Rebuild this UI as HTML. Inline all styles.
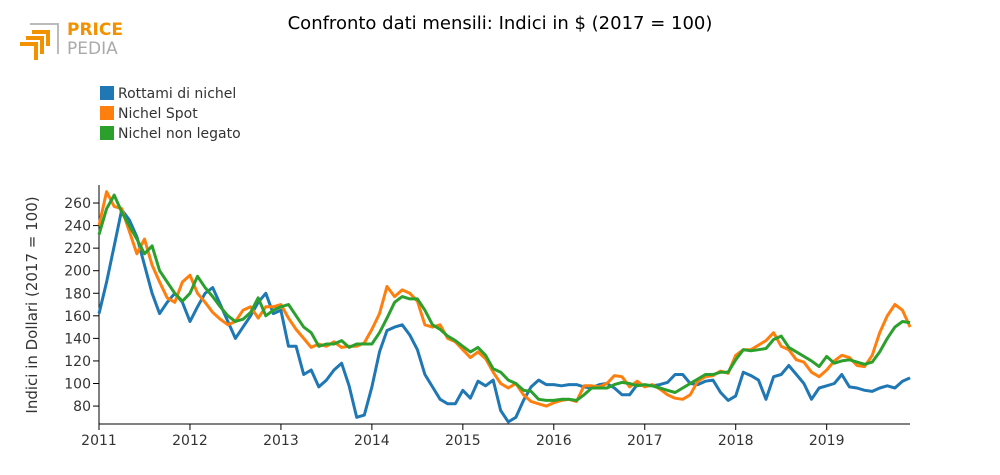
<!DOCTYPE html>
<html><head><meta charset="utf-8"><style>
body{margin:0;background:#fff;font-family:"DejaVu Sans","Liberation Sans",sans-serif}
svg{display:block}
</style></head><body>
<svg id="c" width="1000" height="475">
<g>
<path d="M20 44 h16 v16 M26 38 h16 v16 M32 32 h16 v14" fill="none" stroke="#f39200" stroke-width="4"/>
<path d="M30 24 h28 v30" fill="none" stroke="#bbb" stroke-width="2"/>
<text x="67" y="35" font-size="17" font-weight="bold" fill="#f39200">PRICE</text>
<text x="67" y="54" font-size="17" fill="#aaa">PEDIA</text>
</g>
<text x="500" y="29" text-anchor="middle" font-size="18">Confronto dati mensili: Indici in $ (2017 = 100)</text>
<g id="legend"></g>
<g id="axes"></g>
<g id="lines"></g>
</svg>
<script>
const seriesNames=["Rottami di nichel","Nichel Spot","Nichel non legato"];
const colors=["#1f77b4","#ff7f0e","#2ca02c"];
const startYear=2011;
const rottami=[162,190,222,254,245,230,205,180,162,172,180,172,
155,168,180,185,170,155,140,150,160,172,180,162,
165,133,133,108,112,97,103,112,118,98,70,72,
97,128,147,150,152,143,130,108,97,86,82,82,
94,87,102,98,103,76,66,70,85,97,103,99,
99,98,99,99,97,96,99,100,96,90,90,99,
98,98,99,101,108,108,100,99,102,103,92,85,
89,110,107,103,86,106,108,116,108,100,86,96,
98,100,108,97,96,94,93,96,98,96,102,105];
const spot=[240,270,257,255,235,215,228,205,190,176,172,190,
196,180,172,163,157,152,155,165,168,158,168,168,
170,158,148,140,132,135,133,137,132,133,133,136,
148,162,186,177,183,180,173,152,150,152,140,137,
130,123,128,122,110,100,96,100,90,84,82,80,
83,85,86,84,98,98,97,100,107,106,97,102,
97,99,95,90,87,86,90,102,106,107,111,109,
125,130,130,134,138,145,133,130,121,119,110,106,
112,120,125,123,116,115,125,145,160,170,165,150];
const nonLegato=[232,255,267,252,240,228,215,222,200,190,180,173,
180,195,185,177,168,160,155,157,163,176,160,165,
168,170,160,150,145,133,135,135,138,132,135,135,
135,145,158,172,177,175,175,165,152,148,142,138,
133,128,132,125,113,110,103,100,94,93,86,85,
85,86,86,85,90,96,96,96,99,101,100,98,
99,98,96,94,92,96,100,104,108,108,110,110,
121,130,129,130,131,139,142,132,128,124,120,115,
124,118,120,121,119,117,119,128,140,150,155,154];
const yTicks=[80,100,120,140,160,180,200,220,240,260];
const xTicks=[2011,2012,2013,2014,2015,2016,2017,2018,2019];
const NS="http://www.w3.org/2000/svg";
const X0=99,PXM=7.58,Y100=383.5,PXU=1.128,YB=424,YT=185;
const x=i=>X0+i*PXM;
const y=v=>Y100-(v-100)*PXU;
function mk(t,a,p){const e=document.createElementNS(NS,t);for(const k in a)e.setAttribute(k,a[k]);p.appendChild(e);return e;}
const ax=document.getElementById('axes');
let l=mk('line',{x1:X0,x2:X0,y1:YT,y2:YB,stroke:'#000'},ax);


l=mk('line',{x1:X0,x2:x(107),y1:YB,y2:YB,stroke:'#000'},ax);


yTicks.forEach(v=>{mk('line',{x1:X0-6,x2:X0,y1:y(v),y2:y(v),stroke:'#000'},ax);
const t=mk('text',{x:X0-8,y:y(v)+5,'text-anchor':'end','font-size':14,fill:'#333'},ax);t.textContent=v;

});
xTicks.forEach(yr=>{const px=x((yr-startYear)*12);mk('line',{x1:px,x2:px,y1:YB,y2:YB+6,stroke:'#000'},ax);
const t=mk('text',{x:px,y:YB+21,'text-anchor':'middle','font-size':14,fill:'#333'},ax);t.textContent=yr;

});
const yt=mk('text',{x:37,y:305,'text-anchor':'middle','font-size':15,fill:'#333',transform:'rotate(-90 37 305)'},ax);
yt.textContent='Indici in Dollari (2017 = 100)';


const lg=document.getElementById('legend');
seriesNames.forEach((n,i)=>{const r=mk('rect',{x:100,y:86+i*20,width:14,height:14,fill:colors[i]},lg);


const t=mk('text',{x:118,y:98+i*20,'font-size':14,fill:'#333'},lg);t.textContent=n;

});
const lines=document.getElementById('lines');
[rottami,spot,nonLegato].forEach((s,si)=>{
const p=mk('path',{d:s.map((v,i)=>(i?'L':'M')+x(i).toFixed(1)+' '+y(v).toFixed(1)).join(''),fill:'none',stroke:colors[si],'stroke-width':3,'stroke-linejoin':'round'},lines);

});
</script>
</body></html>
